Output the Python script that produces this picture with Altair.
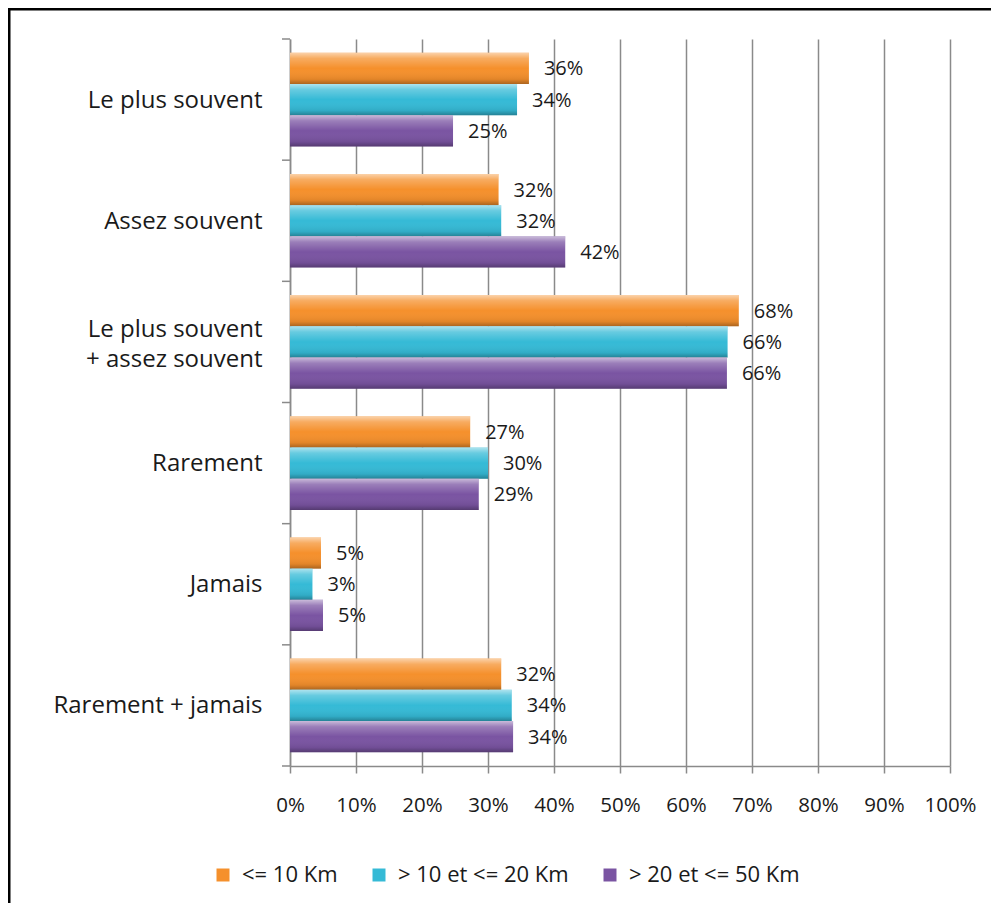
import altair as alt
import pandas as pd

categories = ["Le plus souvent", "Assez souvent", "Le plus souvent|+ assez souvent",
              "Rarement", "Jamais", "Rarement + jamais"]
series = ["<= 10 Km", "> 10 et <= 20 Km", "> 20 et <= 50 Km"]
v_le10 = [36.2, 31.6, 68.0, 27.3, 4.7, 32.0]
v_10_20 = [34.4, 32.0, 66.3, 30.0, 3.4, 33.6]
v_20_50 = [24.7, 41.7, 66.2, 28.6, 5.0, 33.8]
x_ticks = [0, 10, 20, 30, 40, 50, 60, 70, 80, 90, 100]

colors = ["#F5902C", "#35BAD6", "#7A54A2"]
FONT = "Open Sans"
TXT = "#1a1a1a"
GRAY = "#8a8a8a"

rows = []
for s, vals in zip(series, [v_le10, v_10_20, v_20_50]):
    for c, v in zip(categories, vals):
        rows.append({"cat": c, "series": s, "val": v, "lab": f"{round(v)}%"})
df = pd.DataFrame(rows)
df_cats = pd.DataFrame({"cat": categories})
one = pd.DataFrame({"a": [0]})

W, H = 660, 727

y_enc = alt.Y("cat:N", sort=categories,
              scale=alt.Scale(paddingInner=0, paddingOuter=0),
              axis=alt.Axis(title=None, ticks=False, domain=True, domainColor=GRAY,
                            domainWidth=1.5, labelExpr="split(datum.label, '|')",
                            labelPadding=28, labelFontSize=24, labelLineHeight=30,
                            labelOffset={"condition": {"test": "indexof(datum.value, '|') >= 0",
                                                       "value": -12}, "value": 1},
                            labelFont=FONT, labelColor=TXT, labelLimit=400))
yoff_enc = alt.YOffset("series:N", sort=series,
                       scale=alt.Scale(paddingOuter=0.44, paddingInner=0))
x_enc = alt.X("val:Q", scale=alt.Scale(domain=[0, 100], nice=False),
              axis=alt.Axis(title=None, values=x_ticks, labelExpr="datum.value + '%'",
                            labelOverlap=False, labelFlush=False,
                            grid=True, gridColor=GRAY, gridWidth=1.5,
                            domainColor=GRAY, domainWidth=1.5, tickColor=GRAY,
                            tickWidth=1.5, tickSize=7, labelPadding=22,
                            labelFontSize=20.5, labelFont=FONT, labelColor=TXT))

base = alt.Chart(df).encode(y=y_enc, yOffset=yoff_enc, x=x_enc)

bars = base.mark_bar().encode(
    color=alt.Color("series:N", sort=series,
                    scale=alt.Scale(domain=series, range=colors),
                    legend=alt.Legend(title=None, orient="none", legendX=-78, legendY=825,
                                      direction="horizontal", symbolType="square",
                                      symbolSize=169, symbolStrokeWidth=0,
                                      labelFontSize=22, labelFont=FONT, labelColor=TXT,
                                      labelLimit=400,
                                      columnPadding=30, labelOffset=8, padding=0))
)

shade = base.mark_bar(color=alt.Gradient(
    gradient="linear", x1=0, y1=0, x2=0, y2=1,
    stops=[alt.GradientStop(offset=0, color="rgba(255,255,255,0.6)"),
           alt.GradientStop(offset=0.18, color="rgba(255,255,255,0.25)"),
           alt.GradientStop(offset=0.5, color="rgba(255,255,255,0)"),
           alt.GradientStop(offset=0.85, color="rgba(0,0,0,0.08)"),
           alt.GradientStop(offset=1, color="rgba(0,0,0,0.3)")]))

labels = base.mark_text(align="left", baseline="middle", dx=15, dy=1, fontSize=20,
                        font=FONT, color=TXT).encode(text="lab:N")

yticks = alt.Chart(df_cats).mark_rule(color=GRAY, strokeWidth=1.5).encode(
    y=alt.Y("cat:N", sort=categories, bandPosition=0),
    x=alt.value(-8), x2=alt.value(0))
ytick_bottom = alt.Chart(one).mark_rule(color=GRAY, strokeWidth=1.5).encode(
    y=alt.value(H), x=alt.value(-8), x2=alt.value(0))

border_top = alt.Chart(one).mark_rule(color="black", strokeWidth=3).encode(
    y=alt.value(-30), x=alt.value(-283), x2=alt.value(720))
border_left = alt.Chart(one).mark_rule(color="black", strokeWidth=3).encode(
    x=alt.value(-281), y=alt.value(-31), y2=alt.value(880))

chart = alt.layer(bars, shade, labels, yticks, ytick_bottom, border_top, border_left).properties(
    width=W, height=H,
    autosize=alt.AutoSizeParams(type="none"),
    padding={"left": 282, "top": 31, "right": 41, "bottom": 137},
    background="white",
).configure_view(stroke=None)

chart.save("out.html", embed_options={"renderer": "svg", "actions": False})
